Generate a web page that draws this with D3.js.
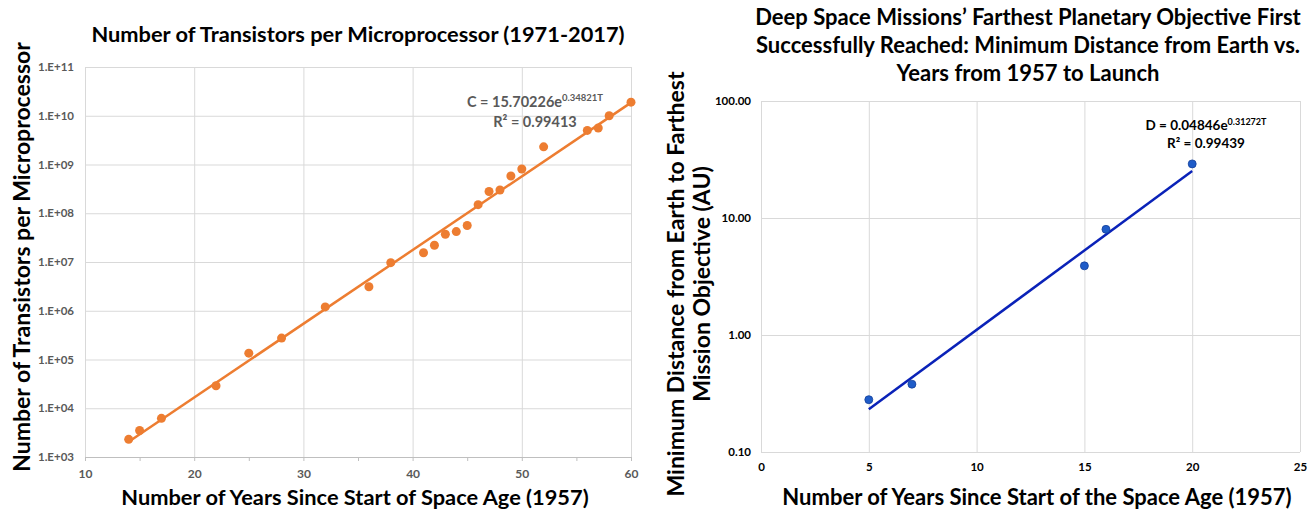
<!DOCTYPE html>
<html>
<head>
<meta charset="utf-8">
<script src="https://cdn.jsdelivr.net/npm/d3@7"></script>
<style>
  body { margin: 0; background: #fff; }
  svg { display: block; font-family: Lato, "Open Sans", sans-serif; }
  .grid line { stroke: #d9d9d9; stroke-width: 1; }
  .grid path { display: none; }
  .title { font-weight: bold; fill: #000; }
</style>
</head>
<body>
<div id="chart"></div>
<script>
// --- data: transistors per microprocessor (years since 1957) ---
const chipYears = [14, 15, 17, 22, 25, 28, 32, 36, 38, 41, 42, 43, 44, 45, 46, 47, 48, 49, 50, 52, 56, 57, 58, 60];
const chipCounts = [2.3e3, 3.5e3, 6.2e3, 2.9e4, 1.35e5, 2.75e5, 1.2e6, 3.1e6, 9.7e6, 1.55e7, 2.2e7, 3.7e7, 4.2e7,
    5.6e7, 1.5e8, 2.8e8, 3.0e8, 5.8e8, 8.1e8, 2.3e9, 5.0e9, 5.6e9, 1.0e10, 1.9e10];
const chipFit = { a: 15.70226, b: 0.34821 };
const chipYTicks = [1e3, 1e4, 1e5, 1e6, 1e7, 1e8, 1e9, 1e10, 1e11];
const chipXTicks = [10, 20, 30, 40, 50, 60];

// --- data: deep space missions ---
const missionYears = [5, 7, 15, 16, 20];
const missionDist = [0.28, 0.38, 3.9, 8.0, 29];
const missionFit = { a: 0.04846, b: 0.31272 };
const missionYTicks = [0.1, 1, 10, 100];
const missionXTicks = [0, 5, 10, 15, 20, 25];

const W = 1310, H = 514;
const svg = d3.select("#chart").append("svg")
    .attr("width", W).attr("height", H)
    .attr("viewBox", `0 0 ${W} ${H}`);

// ================= LEFT CHART =================
const x1 = d3.scaleLinear().domain([10, 60]).range([85, 631]);
const y1 = d3.scaleLog().domain([1e3, 1e11]).range([457, 67]);

// gridlines
svg.append("g").attr("class", "grid")
    .attr("transform", `translate(0,${y1.range()[0]})`)
    .call(d3.axisBottom(x1).tickValues(chipXTicks).tickSize(-(y1.range()[0] - y1.range()[1])).tickFormat(""));
svg.append("g").attr("class", "grid")
    .attr("transform", `translate(${x1.range()[0]},0)`)
    .call(d3.axisLeft(y1).tickValues(chipYTicks).tickSize(-(x1.range()[1] - x1.range()[0])).tickFormat(""));

// x axis with small ticks every 5
const xAx1 = svg.append("g")
    .attr("transform", `translate(0,${y1.range()[0]})`)
    .call(d3.axisBottom(x1).tickValues(d3.range(10, 61, 5)).tickSize(4).tickSizeOuter(0).tickPadding(8)
        .tickFormat(d => chipXTicks.includes(d) ? d : ""));
xAx1.select(".domain").attr("stroke", "#bfbfbf");
xAx1.selectAll(".tick line").attr("stroke", "#bfbfbf");
xAx1.selectAll("text").attr("fill", "#595959").attr("font-size", 12).attr("font-weight", "bold")
    .attr("font-family", "Lato, sans-serif");

const yAx1 = svg.append("g")
    .attr("transform", `translate(${x1.range()[0]},0)`)
    .call(d3.axisLeft(y1).tickValues(chipYTicks).tickSize(0).tickPadding(11)
        .tickFormat(d => "1.E+" + String(Math.round(Math.log10(d))).padStart(2, "0")));
yAx1.select(".domain").remove();
yAx1.selectAll("text").attr("fill", "#595959").attr("font-size", 11.5).attr("font-weight", "bold")
    .attr("font-family", "Lato, sans-serif");

// trendline
const fit1 = d3.extent(chipYears).map(t => [t, chipFit.a * Math.exp(chipFit.b * t)]);
svg.append("path")
    .datum(fit1)
    .attr("fill", "none")
    .attr("stroke", "#ed7d31")
    .attr("stroke-width", 2.5)
    .attr("d", d3.line().x(d => x1(d[0])).y(d => y1(d[1])));

// points
svg.append("g")
    .selectAll("circle")
    .data(chipYears.map((t, i) => [t, chipCounts[i]]))
    .join("circle")
    .attr("cx", d => x1(d[0]))
    .attr("cy", d => y1(d[1]))
    .attr("r", 4.5)
    .attr("fill", "#ed7d31");

// equation
const eq1 = svg.append("text")
    .attr("x", 535).attr("y", 107)
    .attr("text-anchor", "middle")
    .attr("font-size", 14.5).attr("font-weight", "bold").attr("fill", "#595959");
eq1.append("tspan").text(`C = ${chipFit.a}e`);
eq1.append("tspan").attr("font-size", 9.5).attr("dy", -6).text(`${chipFit.b}T`);
svg.append("text")
    .attr("x", 535).attr("y", 127)
    .attr("text-anchor", "middle")
    .attr("font-size", 14.5).attr("font-weight", "bold").attr("fill", "#595959")
    .text("R² = 0.99413");

// titles
svg.append("text").attr("class", "title")
    .attr("x", 358).attr("y", 42)
    .attr("text-anchor", "middle").attr("font-size", 21.8)
    .text("Number of Transistors per Microprocessor (1971-2017)");
svg.append("text").attr("class", "title")
    .attr("transform", "translate(30,257) rotate(-90)")
    .attr("text-anchor", "middle").attr("font-size", 23)
    .text("Number of Transistors per Microprocessor");
svg.append("text").attr("class", "title")
    .attr("x", 355).attr("y", 505)
    .attr("text-anchor", "middle").attr("font-size", 21.8)
    .text("Number of Years Since Start of Space Age (1957)");

// ================= RIGHT CHART =================
const x2 = d3.scaleLinear().domain([0, 25]).range([761, 1300]);
const y2 = d3.scaleLog().domain([0.1, 100]).range([452, 101]);

svg.append("g").attr("class", "grid")
    .attr("transform", `translate(0,${y2.range()[0]})`)
    .call(d3.axisBottom(x2).tickValues(missionXTicks).tickSize(-(y2.range()[0] - y2.range()[1])).tickFormat(""));
svg.append("g").attr("class", "grid")
    .attr("transform", `translate(${x2.range()[0]},0)`)
    .call(d3.axisLeft(y2).tickValues(missionYTicks).tickSize(-(x2.range()[1] - x2.range()[0])).tickFormat(""));

const xAx2 = svg.append("g")
    .attr("transform", `translate(0,${y2.range()[0]})`)
    .call(d3.axisBottom(x2).tickValues(missionXTicks).tickSize(0).tickPadding(11));
xAx2.select(".domain").remove();
xAx2.selectAll("text").attr("fill", "#000").attr("font-size", 11.5).attr("font-weight", "bold")
    .attr("font-family", "Lato, sans-serif");

const yAx2 = svg.append("g")
    .attr("transform", `translate(${x2.range()[0]},0)`)
    .call(d3.axisLeft(y2).tickValues(missionYTicks).tickSize(0).tickPadding(10).tickFormat(d3.format(".2f")));
yAx2.select(".domain").remove();
yAx2.selectAll("text").attr("fill", "#000").attr("font-size", 11.5).attr("font-weight", "bold")
    .attr("font-family", "Lato, sans-serif");

const fit2 = d3.extent(missionYears).map(t => [t, missionFit.a * Math.exp(missionFit.b * t)]);
svg.append("path")
    .datum(fit2)
    .attr("fill", "none")
    .attr("stroke", "#0a22b8")
    .attr("stroke-width", 2.5)
    .attr("d", d3.line().x(d => x2(d[0])).y(d => y2(d[1])));

svg.append("g")
    .selectAll("circle")
    .data(missionYears.map((t, i) => [t, missionDist[i]]))
    .join("circle")
    .attr("cx", d => x2(d[0]))
    .attr("cy", d => y2(d[1]))
    .attr("r", 4)
    .attr("fill", "#1f5cc8")
    .attr("stroke", "#14409a")
    .attr("stroke-width", 0.8);

const eq2 = svg.append("text")
    .attr("x", 1206).attr("y", 130)
    .attr("text-anchor", "middle")
    .attr("font-size", 13.5).attr("font-weight", "bold").attr("fill", "#000");
eq2.append("tspan").text(`D = ${missionFit.a}e`);
eq2.append("tspan").attr("font-size", 9).attr("dy", -5).text(`${missionFit.b}T`);
svg.append("text")
    .attr("x", 1206).attr("y", 148)
    .attr("text-anchor", "middle")
    .attr("font-size", 13.5).attr("font-weight", "bold").attr("fill", "#000")
    .text("R² = 0.99439");

const title2 = ["Deep Space Missions’ Farthest Planetary Objective First",
    "Successfully Reached: Minimum Distance from Earth vs.",
    "Years from 1957 to Launch"];
svg.append("g")
    .selectAll("text")
    .data(title2)
    .join("text")
    .attr("class", "title")
    .attr("x", 1028)
    .attr("y", (d, i) => 25 + i * 28)
    .attr("text-anchor", "middle").attr("font-size", 22)
    .text(d => d);

const ytitle2 = ["Minimum Distance from Earth to Farthest", "Mission Objective (AU)"];
svg.append("g")
    .selectAll("text")
    .data(ytitle2)
    .join("text")
    .attr("class", "title")
    .attr("transform", (d, i) => `translate(${684 + i * 26},284) rotate(-90)`)
    .attr("text-anchor", "middle").attr("font-size", 23)
    .text(d => d);

svg.append("text").attr("class", "title")
    .attr("x", 1037).attr("y", 505)
    .attr("text-anchor", "middle").attr("font-size", 22)
    .text("Number of Years Since Start of the Space Age (1957)");
</script>
</body>
</html>
